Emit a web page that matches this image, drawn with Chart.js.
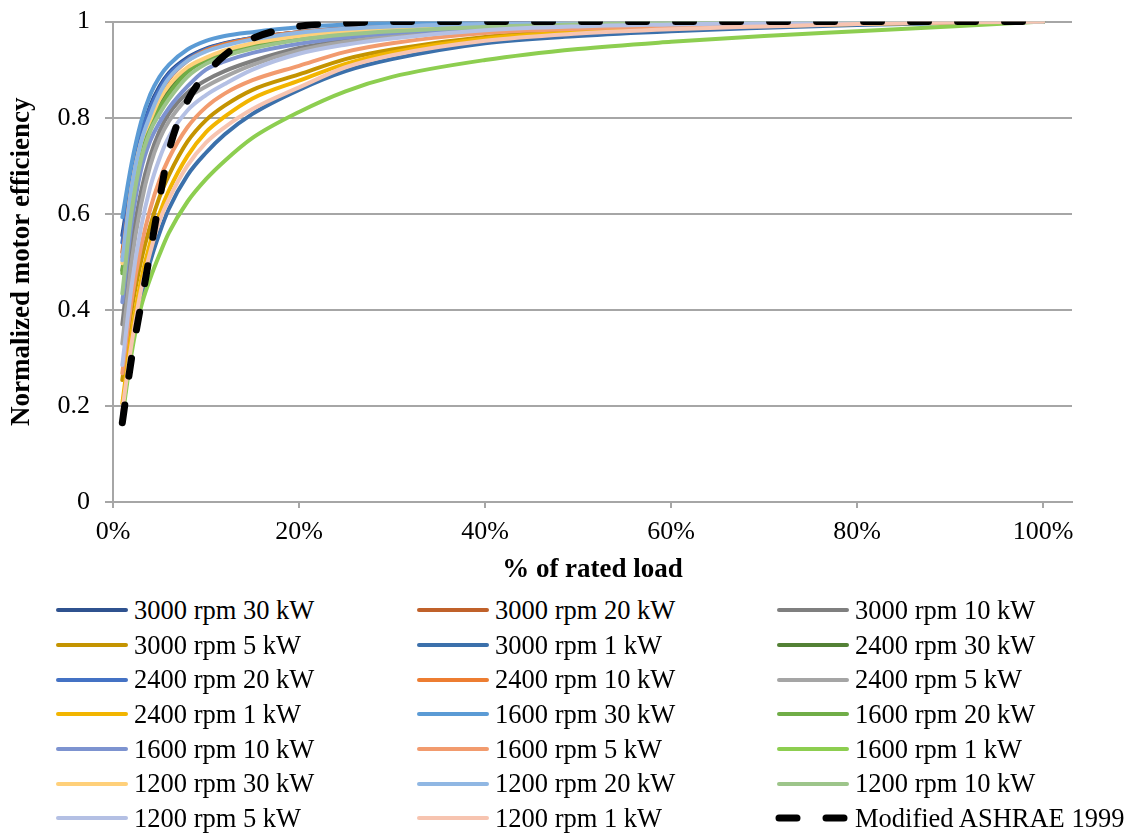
<!DOCTYPE html>
<html>
<head>
<meta charset="utf-8">
<script src="https://cdn.jsdelivr.net/npm/chart.js@4.4.1/dist/chart.umd.min.js"></script>
<style>
    body { margin: 0; background: #fff; }
    #wrap { position: relative; width: 1131px; height: 835px; overflow: hidden; }
    #effChart { position: absolute; left: 0; top: -9px; }
    #legend {
        position: absolute; left: 54px; top: 593px;
        display: grid;
        grid-template-columns: 361px 360px 330px;
        grid-auto-rows: 34.7px;
        font-family: 'Liberation Serif', 'Times New Roman', serif;
        font-size: 26.5px; color: #000;
    }
    .item { display: flex; align-items: center; white-space: nowrap; }
    .item canvas { margin-right: 4px; }
</style>
</head>
<body>
<div id="wrap">
    <canvas id="effChart" width="1131" height="599"></canvas>
    <div id="legend"></div>
</div>
<script>
// % of rated load
const loadPct = [1, 2, 3, 4, 5, 6, 8, 10, 12, 15, 20, 25, 30, 40, 50, 60, 70, 80, 90, 100];

// normalized efficiency
const e3000_30 = [0.555, 0.675, 0.765, 0.825, 0.865, 0.893, 0.925, 0.944, 0.955, 0.966, 0.977, 0.985, 0.99, 0.995, 0.998, 1.0, 1.0, 1.0, 1.0, 1.0];
const e3000_20 = [0.52, 0.66, 0.75, 0.808, 0.852, 0.884, 0.92, 0.94, 0.953, 0.965, 0.978, 0.986, 0.991, 0.996, 0.998, 1.0, 1.0, 1.0, 1.0, 1.0];
const e3000_10 = [0.37, 0.535, 0.645, 0.72, 0.772, 0.808, 0.852, 0.878, 0.897, 0.918, 0.945, 0.961, 0.972, 0.985, 0.992, 0.996, 0.998, 0.999, 1.0, 1.0];
const e3000_5 = [0.254, 0.4, 0.5, 0.575, 0.635, 0.68, 0.75, 0.795, 0.825, 0.858, 0.89, 0.922, 0.942, 0.968, 0.98, 0.987, 0.992, 0.995, 0.998, 1.0];
const e3000_1 = [0.185, 0.32, 0.42, 0.5, 0.56, 0.61, 0.68, 0.727, 0.765, 0.808, 0.858, 0.897, 0.922, 0.955, 0.97, 0.98, 0.987, 0.993, 0.997, 1.0];
const e2400_30 = [0.482, 0.632, 0.728, 0.79, 0.828, 0.858, 0.898, 0.92, 0.934, 0.949, 0.966, 0.977, 0.984, 0.992, 0.996, 0.998, 0.999, 1.0, 1.0, 1.0];
const e2400_20 = [0.54, 0.672, 0.762, 0.82, 0.86, 0.89, 0.922, 0.942, 0.954, 0.966, 0.978, 0.986, 0.99, 0.995, 0.998, 1.0, 1.0, 1.0, 1.0, 1.0];
const e2400_10 = [0.51, 0.655, 0.745, 0.802, 0.848, 0.88, 0.918, 0.94, 0.953, 0.965, 0.978, 0.985, 0.99, 0.995, 0.998, 1.0, 1.0, 1.0, 1.0, 1.0];
const e2400_5 = [0.33, 0.5, 0.618, 0.7, 0.755, 0.792, 0.84, 0.865, 0.885, 0.91, 0.94, 0.958, 0.97, 0.984, 0.991, 0.995, 0.997, 0.999, 1.0, 1.0];
const e2400_1 = [0.205, 0.35, 0.46, 0.54, 0.6, 0.648, 0.72, 0.77, 0.802, 0.84, 0.877, 0.912, 0.936, 0.965, 0.978, 0.986, 0.991, 0.995, 0.998, 1.0];
const e1600_30 = [0.593, 0.705, 0.79, 0.848, 0.885, 0.91, 0.942, 0.96, 0.97, 0.978, 0.988, 0.994, 0.997, 1.0, 1.002, 1.003, 1.003, 1.003, 1.002, 1.0];
const e1600_20 = [0.476, 0.635, 0.732, 0.785, 0.82, 0.85, 0.895, 0.92, 0.935, 0.95, 0.966, 0.976, 0.982, 0.99, 0.995, 0.998, 0.999, 1.0, 1.0, 1.0];
const e1600_10 = [0.416, 0.58, 0.69, 0.752, 0.79, 0.82, 0.865, 0.9, 0.917, 0.935, 0.954, 0.967, 0.976, 0.987, 0.993, 0.996, 0.998, 0.999, 1.0, 1.0];
const e1600_5 = [0.268, 0.42, 0.53, 0.61, 0.67, 0.715, 0.78, 0.822, 0.85, 0.878, 0.908, 0.937, 0.955, 0.976, 0.985, 0.99, 0.994, 0.997, 0.999, 1.0];
const e1600_1 = [0.175, 0.31, 0.405, 0.465, 0.515, 0.56, 0.625, 0.672, 0.71, 0.758, 0.812, 0.855, 0.885, 0.92, 0.943, 0.958, 0.97, 0.98, 0.99, 1.0];
const e1200_30 = [0.497, 0.652, 0.748, 0.795, 0.838, 0.867, 0.905, 0.925, 0.94, 0.955, 0.97, 0.98, 0.986, 0.993, 0.997, 0.999, 1.0, 1.0, 1.0, 1.0];
const e1200_20 = [0.503, 0.655, 0.748, 0.805, 0.85, 0.882, 0.918, 0.938, 0.95, 0.963, 0.977, 0.985, 0.99, 0.995, 0.998, 1.0, 1.0, 1.0, 1.0, 1.0];
const e1200_10 = [0.434, 0.605, 0.712, 0.772, 0.808, 0.838, 0.885, 0.912, 0.928, 0.944, 0.962, 0.973, 0.98, 0.989, 0.994, 0.997, 0.999, 1.0, 1.0, 1.0];
const e1200_5 = [0.285, 0.45, 0.57, 0.655, 0.715, 0.76, 0.815, 0.847, 0.87, 0.9, 0.933, 0.952, 0.965, 0.982, 0.99, 0.994, 0.997, 0.998, 0.999, 1.0];
const e1200_1 = [0.19, 0.33, 0.44, 0.52, 0.585, 0.63, 0.7, 0.748, 0.78, 0.818, 0.863, 0.905, 0.93, 0.96, 0.975, 0.984, 0.99, 0.995, 0.998, 1.0];
const ashrae = [0.165, 0.3, 0.41, 0.52, 0.63, 0.73, 0.835, 0.89, 0.93, 0.965, 0.99, 0.997, 1.0, 1.0, 1.0, 1.0, 1.0, 1.0, 1.0, 1.0];

const seriesNames = [
    '3000 rpm 30 kW', '3000 rpm 20 kW', '3000 rpm 10 kW', '3000 rpm 5 kW', '3000 rpm 1 kW',
    '2400 rpm 30 kW', '2400 rpm 20 kW', '2400 rpm 10 kW', '2400 rpm 5 kW', '2400 rpm 1 kW',
    '1600 rpm 30 kW', '1600 rpm 20 kW', '1600 rpm 10 kW', '1600 rpm 5 kW', '1600 rpm 1 kW',
    '1200 rpm 30 kW', '1200 rpm 20 kW', '1200 rpm 10 kW', '1200 rpm 5 kW', '1200 rpm 1 kW',
    'Modified ASHRAE 1999'
];
const seriesValues = [
    e3000_30, e3000_20, e3000_10, e3000_5, e3000_1,
    e2400_30, e2400_20, e2400_10, e2400_5, e2400_1,
    e1600_30, e1600_20, e1600_10, e1600_5, e1600_1,
    e1200_30, e1200_20, e1200_10, e1200_5, e1200_1,
    ashrae
];
const seriesColors = [
    '#2F528F', '#C0612A', '#7F7F7F', '#C49400', '#3B70AB',
    '#538135', '#4472C4', '#ED7D31', '#A5A5A5', '#F2B500',
    '#5B9BD5', '#70AD47', '#7D93D0', '#F29B6E', '#8DCE50',
    '#FFD07A', '#90B7E3', '#9DC58A', '#B4C0E4', '#F7C4B0',
    '#000000'
];

const serif = "'Liberation Serif', 'Times New Roman', serif";
Chart.defaults.font.family = serif;
Chart.defaults.color = '#000';

const datasets = seriesNames.map((name, i) => {
    const isRef = i === seriesNames.length - 1;
    return {
        label: name,
        data: loadPct.map((x, j) => ({x: x, y: seriesValues[i][j]})),
        borderColor: seriesColors[i],
        borderWidth: isRef ? 7 : 4,
        borderDash: isRef ? [18, 29] : [],
        borderCapStyle: 'round',
        pointRadius: 0,
        fill: false,
        cubicInterpolationMode: 'monotone',
        order: -i   // later series on top, like the original
    };
});

const gridGray = '#A6A6A6';

const chart = new Chart(document.getElementById('effChart'), {
    type: 'line',
    data: {datasets: datasets},
    options: {
        responsive: false,
        animation: false,
        layout: {padding: {top: 6, right: 59, left: 0, bottom: 0}},
        plugins: {legend: {display: false}, tooltip: {enabled: false}},
        scales: {
            x: {
                type: 'linear',
                min: 0,
                max: 103.1,
                afterFit: (scale) => { scale.height = 88; },
                ticks: {
                    stepSize: 20,
                    includeBounds: false,
                    maxRotation: 0,
                    padding: 9,
                    font: {size: 26},
                    callback: (v) => v + '%'
                },
                grid: {drawOnChartArea: false, tickLength: 6, color: gridGray, lineWidth: 2},
                border: {color: gridGray, width: 2},
                title: {
                    display: true,
                    text: '% of rated load',
                    font: {size: 27, weight: 'bold'},
                    padding: {top: 0, bottom: 4}
                }
            },
            y: {
                min: 0,
                max: 1,
                afterFit: (scale) => { scale.width = 113; },
                ticks: {
                    stepSize: 0.2,
                    padding: 15,
                    font: {size: 26},
                    callback: (v) => String(Math.round(v * 10) / 10)
                },
                grid: {color: gridGray, lineWidth: 2, tickLength: 8},
                border: {color: gridGray, width: 2},
                title: {
                    display: true,
                    text: 'Normalized motor efficiency',
                    font: {size: 27, weight: 'bold'},
                    padding: {top: 6, bottom: 0}
                }
            }
        }
    }
});

// legend in three columns, filled row by row
const legendBox = document.getElementById('legend');
chart.data.datasets.forEach((ds) => {
    const item = document.createElement('div');
    item.className = 'item';
    const sw = document.createElement('canvas');
    sw.width = 76;
    sw.height = 12;
    const c = sw.getContext('2d');
    c.strokeStyle = ds.borderColor;
    c.lineWidth = ds.borderWidth;
    c.lineCap = 'round';
    c.setLineDash(ds.borderDash);
    c.beginPath();
    c.moveTo(4, 6);
    c.lineTo(72, 6);
    c.stroke();
    item.appendChild(sw);
    const txt = document.createElement('span');
    txt.textContent = ds.label;
    item.appendChild(txt);
    legendBox.appendChild(item);
});
</script>
</body>
</html>
